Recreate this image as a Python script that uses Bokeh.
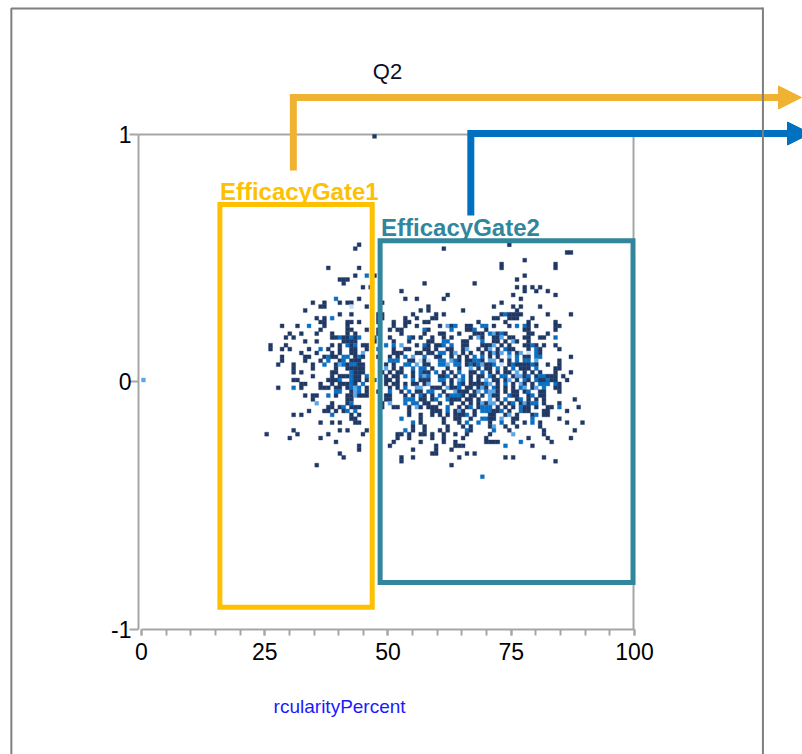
from bokeh.plotting import figure
from bokeh.models import Range1d, LinearAxis, FixedTicker, Arrow, NormalHead
from bokeh.core.properties import value
from bokeh.embed import file_html
from bokeh.resources import INLINE

# ---------------- data ----------------
X_BINS = 128
Y_BINS = 128
X_LIMITS = [0, 100]
Y_LIMITS = [-1, 1]

x_ticks = [0, 25, 50, 75, 100]
x_minor_ticks = list(range(0, 101, 5))
y_ticks = [-1, 0, 1]
y_tick_labels = {-1: "-1", 0: "0", 1: "1"}

# density cells: y-bin -> x-bins (suffix = count level: none=1, b=2, l=3, p=4)
DENSITY_ROWS = {
    127: "60",
    99: "56 95",
    98: "55 78",
    97: "110 111",
    95: "99",
    94: "93 107",
    93: "48 56 93 107",
    91: "55 58b 60 99",
    90: "51 52 53 97",
    89: "52 73 86",
    88: "57 59 97 99 101 103",
    87: "67 99 102 105",
    86: "79 96 107",
    85: "50b 56 68 71 78 98",
    84: "44 47 51 53 54 62 93",
    83: "46 47 54p 58 74 91 96 98 103",
    82: "42 72 74 83 97",
    81: "51 54 61 62 70 76 78 93 94b 95 96 97 98 105 111",
    80: "45 47 49b 61 62 68 71 75 76 91 92 95 96 97 101",
    79: "46 47 53 54 56 61 65 68 69 73 74 87 94 100 107",
    78: "36 40 43b 47 53 65 68 71 77 79l 80 81b 84 85 88b 89b 91 95 97b 99b 100 102 107 108",
    77: "46 53 54 58 61 64 66 67 73b 74 80b 84 85 86b 89 99 100 107",
    76: "38 41 45 49 53 55 61 67 73 77 78 82 86 87 88 90b 91l 92 93b 94 100 101 105",
    75: "37 39 49 50 51b 52 53 54b 55 56b 60b 64 69b 70 72 75 78 80 85 87l 88 91 92 93l 95 96 99 100 103 104 107b",
    74: "42 45 52 53 54 55 60 65 69 74 75 78b 79b 83 84 88b 91 92 94 96l 97 100",
    73: "33 37 49 51 53b 54 55b 57 58 63b 65b 67l 71 73b 74 76 77 78b 80b 83 84 88 89 90 91l 93 95 99 100 101b 102 104 107",
    72: "33 36 38 43 46b 48 51 54 55 58 61b 65 68 69 73 74 76 79 80 83 84l 87 89 90l 92 94b 95 96 100 102b 103 108",
    71: "41 45 49 51 54 55 57l 65 66 67 71 72 74 75 77b 78b 80 81l 83 85 88 90 91l 92 93l 95b 97 98l 100p 102b 103",
    70: "36 42 43 47 48b 49 50 52b 53b 55 56b 57 61 64 66 68b 70l 73b 76 77 80 82 84 86b 88b 90 92 95l 97b 99 100 102b 103b 111",
    69: "36 42 46 48b 51 52b 54 55 56 64b 65b 66b 69 70 72p 73 74p 77b 78b 80l 81b 82 84 85 86b 87b 88 90l 91l 93 95 97b 99b 100b 102l 108",
    68: "35 39 44 47b 50 51l 52b 53 54b 55b 56 57 63 65 68b 69b 71l 73 74 77b 78b 79l 81b 82b 84 85b 86 87b 88l 89 90 91b 93p 95 96b 97 98 99 100 101b 102 105 108",
    67: "39 44 50 53 54 55 56 57 63l 65 67 70b 72b 73b 75 79 82 85l 87 89 90 92b 94 96b 98 99 100 102b 107 108",
    66: "39 41 49 50 54b 55 56 57 62 64 66 67 70 72b 73 74 76b 78 80 82b 85 86 88b 90 92 94 95 97l 99 101 103 107 111",
    65: "44 49 51 52 53 54b 55 56 58b 63 65 66 68b 70 72b 73l 74b 77 78 79b 81 83b 85 87 88 90b 91 93b 94b 96 97l 98l 99 100b 102 103b 104b 105 106 107 109",
    64: "0l 39 40 48 49 50 51b 54b 55 56 58 60b 63 64 66 70b 72 73 74 77b 78b 80 82l 83b 85 87 89l 91 92 94 95l 97 99b 100 102b 103 104 105b 106 107 110",
    63: "41 42 46 49 51 52 53 54b 55 57b 63 65 66 68 70 71 73 74l 78 80 82b 83 85 86 87 88 89b 90l 92 94b 96 98l 99 101 103b 104b 105b 107b 108",
    62: "35 39b 41 46 47 48 50 51 53 54b 55l 56b 58 64 66 68b 71l 72l 75 76 77 79l 80 81 82b 84 85 87 88l 89 91b 92 94 96 98b 99l 101 102l 104b 107 108",
    61: "50b 51b 54 55l 56b 58 61 64b 67 69b 71 72 74b 75b 78 81l 82 83 84 86 87l 89b 90l 91l 92 94 96 97 99 100b 103 104 108",
    60: "42 44 45 48b 50 53 54 55l 56 57 58 63 64 68 70 72b 73 75 77b 79 80b 81b 82b 83 85 86 88 90l 91 92 95b 96 97 100 101b 103 104",
    59: "44 53 54 63 64 68b 69b 70b 72 73 75 76b 79b 80 81 82 84 85 87 90l 92 94b 97 98b 100 102 104 112",
    58: "45l 49 53 54b 62 64l 68b 70b 71b 73 74 77 80 83 85 87 88l 89 90l 91l 93 95 96b 98 99l 100 101b 102b 104 108",
    57: "48 49 51 52b 54 55 56 62 65 66 69 71l 72 74 75 76 79b 82 84 85b 87 88b 89b 90b 92 94 96 98b 99 100 102 105 106 108b 113",
    56: "43 47 48 50 52 53b 55b 69 75 76 77 79b 81 82l 83 86 88b 89b 90b 91 92 93b 95 98b 99 100 104 105 110",
    55: "39 41 49b 54 56 69 72 75 77 79 81 82 83 84b 86 90 91 94 95l 97 101 102b 104 105",
    54: "54 55 67b 72 78 81 82 85 88b 89b 90 91 93l 96 97 101b 108",
    53: "46 49 51 55 56 70b 72 78 82 84b 87b 90 93b 96 99 101b 103 110 114",
    52: "70 73 79 83 85 90 91l 94 97 103",
    51: "39 51 53 58 68b 70 73 77 79 84b 85 91b 95 104 112",
    50: "32 40 48 57 66 67 69 72 73 75 78 81 84 90 96l 104",
    49: "38 46 66 69 75 78 83 89 100 105 111",
    48: "50 65 72 78 81 89 90 91 92 98b 106",
    47: "56 64 76 81 82 83 94b 101",
    46: "56 70 76 80",
    45: "51 75 76 84 86",
    44: "52 67 70 82 94 96 104",
    43: "67 107",
    42: "45 80",
    39: "88b",
}
level_colors = {1: "#1F3864", 2: "#0B6FC2", 3: "#5CA6E6", 4: "#C6DFF5"}

gate_names = ["EfficacyGate1", "EfficacyGate2"]
gate_left = [15.9, 48.4]
gate_right = [46.8, 99.7]
gate_bottom = [-0.91, -0.81]
gate_top = [0.717, 0.5705]
gate_colors = ["#FFC000", "#31859C"]

# ---------------- parse cells ----------------
cell_w = (X_LIMITS[1] - X_LIMITS[0]) / X_BINS
cell_h = (Y_LIMITS[1] - Y_LIMITS[0]) / Y_BINS
cx, cy, cc = [], [], []
suffix = {"b": 2, "l": 3, "p": 4}
for iy, row in DENSITY_ROWS.items():
    for tok in row.split():
        lev = suffix.get(tok[-1], 1)
        ix = int(tok.rstrip("blp"))
        cx.append(X_LIMITS[0] + (ix + 0.5) * cell_w)
        cy.append(Y_LIMITS[0] + (iy + 0.5) * cell_h)
        cc.append(level_colors[lev])

# ---------------- figure ----------------
p = figure(width=802, height=754,
           x_range=Range1d(-28.600, 134.077), y_range=Range1d(-1.5051, 1.5414),
           x_axis_type=None, y_axis_type=None, toolbar_location=None,
           output_backend="svg", min_border=0, outline_line_color=None,
           background_fill_color="white", border_fill_color="white")

AX = "#A6A6A6"
FONT = "Liberation Sans"

xaxis = LinearAxis(fixed_location=-1, bounds=(0, 100),
                   ticker=FixedTicker(ticks=x_ticks, minor_ticks=x_minor_ticks),
                   axis_line_color=AX, axis_line_width=2,
                   major_tick_line_color=AX, major_tick_line_width=2,
                   minor_tick_line_color=AX, minor_tick_line_width=2,
                   major_tick_in=0, major_tick_out=6, minor_tick_in=0, minor_tick_out=6,
                   major_label_text_font=FONT, major_label_text_font_size="23px",
                   major_label_text_color="black", major_label_standoff=8)
p.add_layout(xaxis, "below")

yaxis = LinearAxis(fixed_location=-0.6, bounds=(-1, 1),
                   ticker=FixedTicker(ticks=y_ticks, minor_ticks=[]),
                   major_label_overrides=y_tick_labels,
                   axis_line_color=AX, axis_line_width=2,
                   major_tick_line_color=AX, major_tick_line_width=2,
                   major_tick_in=0, major_tick_out=9,
                   major_label_text_font=FONT, major_label_text_font_size="23px",
                   major_label_text_color="black", major_label_standoff=-2)
p.add_layout(yaxis, "left")

# plot frame (top and right)
p.line(x=[-0.6, 99.8, 99.8], y=[1, 1, -1], line_color=AX, line_width=2)

# outer panel border (left and top)
OUT = "#7F7F7F"
p.line(x=[-26.4, -26.4, 126.05], y=[-1.6, 1.509, 1.509], line_color=OUT, line_width=2)

# density cells
p.rect(x=cx, y=cy, width=cell_w, height=cell_h, fill_color=cc, line_color=cc, line_width=0.4)

# gates
p.quad(left=gate_left, right=gate_right, bottom=gate_bottom, top=gate_top,
       fill_color=None, line_color=gate_colors, line_width=5, line_join="miter")
p.text(x=[15.9, 48.6], y=[0.771, 0.625], text=gate_names, text_color=gate_colors,
       text_font=value(FONT), text_font_style="bold", text_font_size="24px",
       text_baseline="alphabetic", text_align="left")

# Q2 and axis title
p.text(x=[49.9], y=[1.256], text=["Q2"], text_color="#0d0d26",
       text_font=value(FONT), text_font_size="22px",
       text_baseline="alphabetic", text_align="center")
p.text(x=[26.8], y=[-1.311], text=["rcularityPercent"], text_color="#1a1aff",
       text_font=value(FONT), text_font_size="19px",
       text_baseline="alphabetic", text_align="left")

# arrows
ORANGE = "#F0B232"
BLUE = "#0070C0"
half_w = 3.5 / 247.5
p.line(x=[30.8, 30.8], y=[0.8545, 1.1495 + half_w], line_color=ORANGE, line_width=7)
p.add_layout(Arrow(end=NormalHead(size=23, fill_color=ORANGE, line_color=ORANGE, line_width=1),
                   x_start=30.8, y_start=1.1495, x_end=133.87, y_end=1.1495,
                   line_color=ORANGE, line_width=7))
p.line(x=[66.8, 66.8], y=[0.6727, 1.004 + half_w], line_color=BLUE, line_width=7)
p.add_layout(Arrow(end=NormalHead(size=23, fill_color=BLUE, line_color=BLUE, line_width=1),
                   x_start=66.8, y_start=1.004, x_end=135.7, y_end=1.004,
                   line_color=BLUE, line_width=7))

# outer panel border (right), drawn above the arrows
p.add_layout(Arrow(end=None, x_start=126.05, y_start=1.509 + 1 / 247.5,
                   x_end=126.05, y_end=-1.6, line_color=OUT, line_width=2))

open("out.html", "w").write(file_html(p, INLINE))
